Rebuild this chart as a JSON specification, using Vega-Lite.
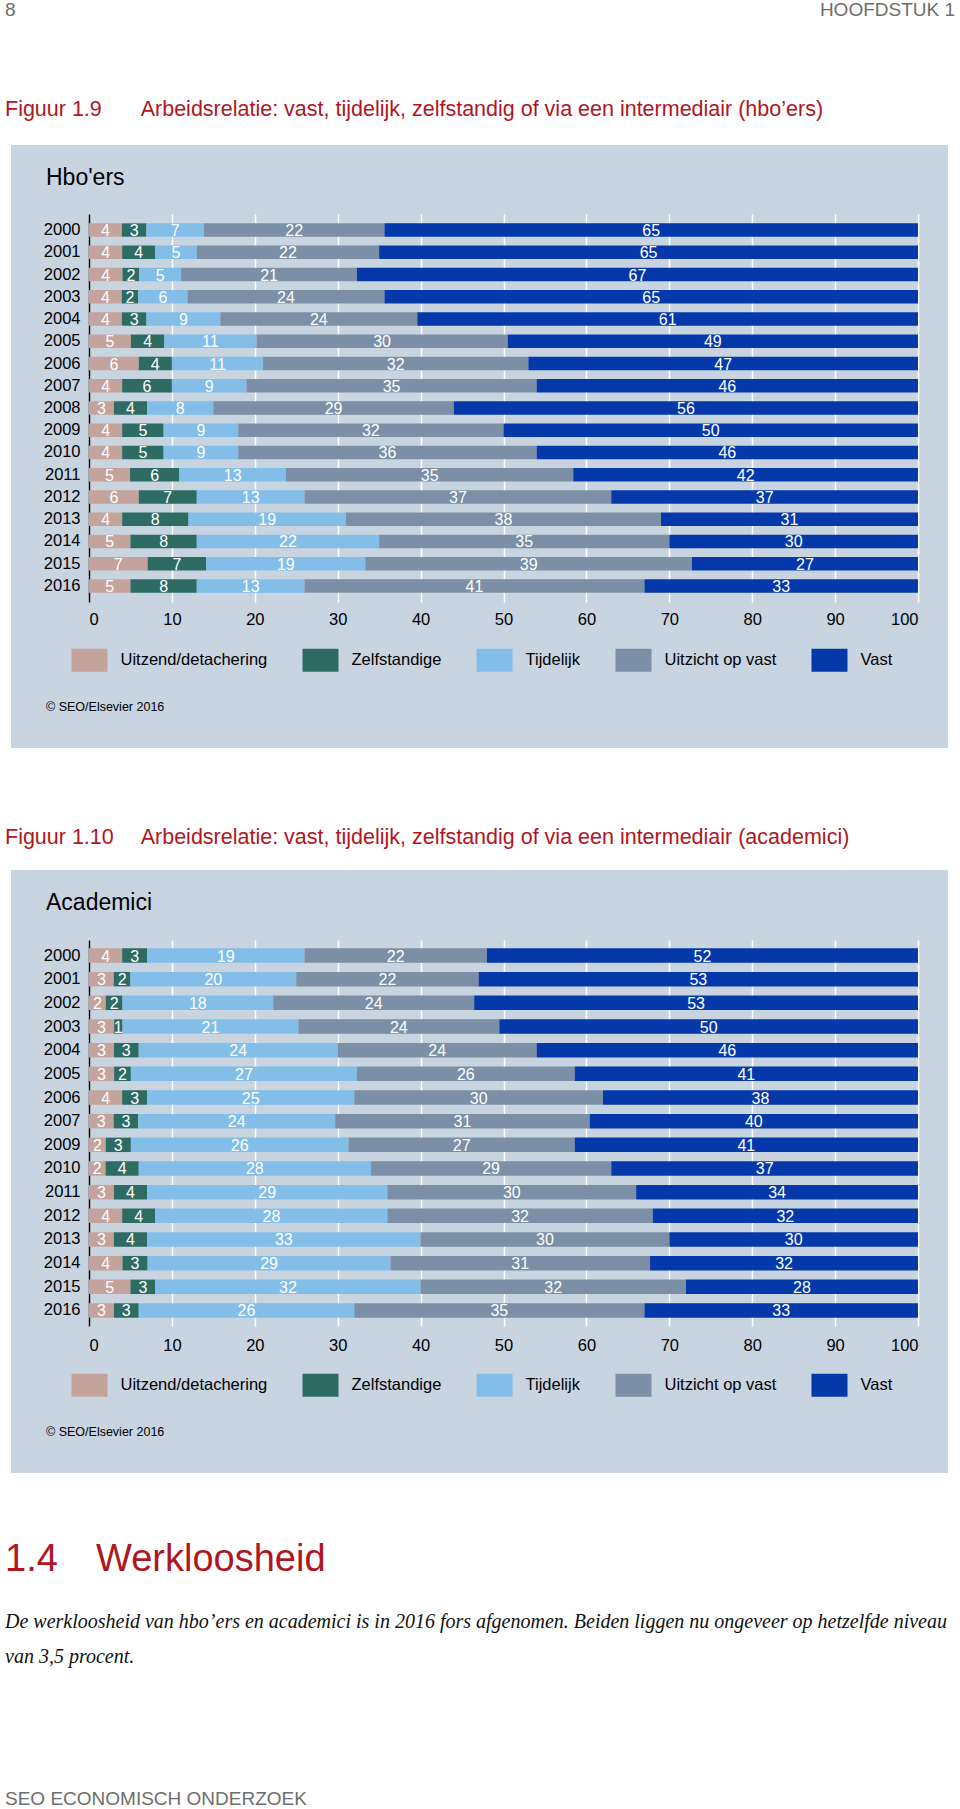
{
  "$schema": "https://vega.github.io/schema/vega-lite/v6.json",
  "background": "#c8d4e0",
  "padding": 0,
  "spacing": 0,
  "resolve": {"scale": {"color": "independent"}},
  "config": {
    "font": "Liberation Sans",
    "view": {"stroke": null},
    "axis": {"labelFont": "Liberation Sans", "labelColor": "black", "labelFontSize": 16.5},
    "legend": {"labelFont": "Liberation Sans"}
  },
  "datasets": {
    "hbo": [
      {"jaar":"2000","cat":"Uitzend/detachering","k":1,"pct":4},{"jaar":"2000","cat":"Zelfstandige","k":2,"pct":3},{"jaar":"2000","cat":"Tijdelijk","k":3,"pct":7},{"jaar":"2000","cat":"Uitzicht op vast","k":4,"pct":22},{"jaar":"2000","cat":"Vast","k":5,"pct":65},
      {"jaar":"2001","cat":"Uitzend/detachering","k":1,"pct":4},{"jaar":"2001","cat":"Zelfstandige","k":2,"pct":4},{"jaar":"2001","cat":"Tijdelijk","k":3,"pct":5},{"jaar":"2001","cat":"Uitzicht op vast","k":4,"pct":22},{"jaar":"2001","cat":"Vast","k":5,"pct":65},
      {"jaar":"2002","cat":"Uitzend/detachering","k":1,"pct":4},{"jaar":"2002","cat":"Zelfstandige","k":2,"pct":2},{"jaar":"2002","cat":"Tijdelijk","k":3,"pct":5},{"jaar":"2002","cat":"Uitzicht op vast","k":4,"pct":21},{"jaar":"2002","cat":"Vast","k":5,"pct":67},
      {"jaar":"2003","cat":"Uitzend/detachering","k":1,"pct":4},{"jaar":"2003","cat":"Zelfstandige","k":2,"pct":2},{"jaar":"2003","cat":"Tijdelijk","k":3,"pct":6},{"jaar":"2003","cat":"Uitzicht op vast","k":4,"pct":24},{"jaar":"2003","cat":"Vast","k":5,"pct":65},
      {"jaar":"2004","cat":"Uitzend/detachering","k":1,"pct":4},{"jaar":"2004","cat":"Zelfstandige","k":2,"pct":3},{"jaar":"2004","cat":"Tijdelijk","k":3,"pct":9},{"jaar":"2004","cat":"Uitzicht op vast","k":4,"pct":24},{"jaar":"2004","cat":"Vast","k":5,"pct":61},
      {"jaar":"2005","cat":"Uitzend/detachering","k":1,"pct":5},{"jaar":"2005","cat":"Zelfstandige","k":2,"pct":4},{"jaar":"2005","cat":"Tijdelijk","k":3,"pct":11},{"jaar":"2005","cat":"Uitzicht op vast","k":4,"pct":30},{"jaar":"2005","cat":"Vast","k":5,"pct":49},
      {"jaar":"2006","cat":"Uitzend/detachering","k":1,"pct":6},{"jaar":"2006","cat":"Zelfstandige","k":2,"pct":4},{"jaar":"2006","cat":"Tijdelijk","k":3,"pct":11},{"jaar":"2006","cat":"Uitzicht op vast","k":4,"pct":32},{"jaar":"2006","cat":"Vast","k":5,"pct":47},
      {"jaar":"2007","cat":"Uitzend/detachering","k":1,"pct":4},{"jaar":"2007","cat":"Zelfstandige","k":2,"pct":6},{"jaar":"2007","cat":"Tijdelijk","k":3,"pct":9},{"jaar":"2007","cat":"Uitzicht op vast","k":4,"pct":35},{"jaar":"2007","cat":"Vast","k":5,"pct":46},
      {"jaar":"2008","cat":"Uitzend/detachering","k":1,"pct":3},{"jaar":"2008","cat":"Zelfstandige","k":2,"pct":4},{"jaar":"2008","cat":"Tijdelijk","k":3,"pct":8},{"jaar":"2008","cat":"Uitzicht op vast","k":4,"pct":29},{"jaar":"2008","cat":"Vast","k":5,"pct":56},
      {"jaar":"2009","cat":"Uitzend/detachering","k":1,"pct":4},{"jaar":"2009","cat":"Zelfstandige","k":2,"pct":5},{"jaar":"2009","cat":"Tijdelijk","k":3,"pct":9},{"jaar":"2009","cat":"Uitzicht op vast","k":4,"pct":32},{"jaar":"2009","cat":"Vast","k":5,"pct":50},
      {"jaar":"2010","cat":"Uitzend/detachering","k":1,"pct":4},{"jaar":"2010","cat":"Zelfstandige","k":2,"pct":5},{"jaar":"2010","cat":"Tijdelijk","k":3,"pct":9},{"jaar":"2010","cat":"Uitzicht op vast","k":4,"pct":36},{"jaar":"2010","cat":"Vast","k":5,"pct":46},
      {"jaar":"2011","cat":"Uitzend/detachering","k":1,"pct":5},{"jaar":"2011","cat":"Zelfstandige","k":2,"pct":6},{"jaar":"2011","cat":"Tijdelijk","k":3,"pct":13},{"jaar":"2011","cat":"Uitzicht op vast","k":4,"pct":35},{"jaar":"2011","cat":"Vast","k":5,"pct":42},
      {"jaar":"2012","cat":"Uitzend/detachering","k":1,"pct":6},{"jaar":"2012","cat":"Zelfstandige","k":2,"pct":7},{"jaar":"2012","cat":"Tijdelijk","k":3,"pct":13},{"jaar":"2012","cat":"Uitzicht op vast","k":4,"pct":37},{"jaar":"2012","cat":"Vast","k":5,"pct":37},
      {"jaar":"2013","cat":"Uitzend/detachering","k":1,"pct":4},{"jaar":"2013","cat":"Zelfstandige","k":2,"pct":8},{"jaar":"2013","cat":"Tijdelijk","k":3,"pct":19},{"jaar":"2013","cat":"Uitzicht op vast","k":4,"pct":38},{"jaar":"2013","cat":"Vast","k":5,"pct":31},
      {"jaar":"2014","cat":"Uitzend/detachering","k":1,"pct":5},{"jaar":"2014","cat":"Zelfstandige","k":2,"pct":8},{"jaar":"2014","cat":"Tijdelijk","k":3,"pct":22},{"jaar":"2014","cat":"Uitzicht op vast","k":4,"pct":35},{"jaar":"2014","cat":"Vast","k":5,"pct":30},
      {"jaar":"2015","cat":"Uitzend/detachering","k":1,"pct":7},{"jaar":"2015","cat":"Zelfstandige","k":2,"pct":7},{"jaar":"2015","cat":"Tijdelijk","k":3,"pct":19},{"jaar":"2015","cat":"Uitzicht op vast","k":4,"pct":39},{"jaar":"2015","cat":"Vast","k":5,"pct":27},
      {"jaar":"2016","cat":"Uitzend/detachering","k":1,"pct":5},{"jaar":"2016","cat":"Zelfstandige","k":2,"pct":8},{"jaar":"2016","cat":"Tijdelijk","k":3,"pct":13},{"jaar":"2016","cat":"Uitzicht op vast","k":4,"pct":41},{"jaar":"2016","cat":"Vast","k":5,"pct":33}
    ],
    "acad": [
      {"jaar":"2000","cat":"Uitzend/detachering","k":1,"pct":4},{"jaar":"2000","cat":"Zelfstandige","k":2,"pct":3},{"jaar":"2000","cat":"Tijdelijk","k":3,"pct":19},{"jaar":"2000","cat":"Uitzicht op vast","k":4,"pct":22},{"jaar":"2000","cat":"Vast","k":5,"pct":52},
      {"jaar":"2001","cat":"Uitzend/detachering","k":1,"pct":3},{"jaar":"2001","cat":"Zelfstandige","k":2,"pct":2},{"jaar":"2001","cat":"Tijdelijk","k":3,"pct":20},{"jaar":"2001","cat":"Uitzicht op vast","k":4,"pct":22},{"jaar":"2001","cat":"Vast","k":5,"pct":53},
      {"jaar":"2002","cat":"Uitzend/detachering","k":1,"pct":2},{"jaar":"2002","cat":"Zelfstandige","k":2,"pct":2},{"jaar":"2002","cat":"Tijdelijk","k":3,"pct":18},{"jaar":"2002","cat":"Uitzicht op vast","k":4,"pct":24},{"jaar":"2002","cat":"Vast","k":5,"pct":53},
      {"jaar":"2003","cat":"Uitzend/detachering","k":1,"pct":3},{"jaar":"2003","cat":"Zelfstandige","k":2,"pct":1},{"jaar":"2003","cat":"Tijdelijk","k":3,"pct":21},{"jaar":"2003","cat":"Uitzicht op vast","k":4,"pct":24},{"jaar":"2003","cat":"Vast","k":5,"pct":50},
      {"jaar":"2004","cat":"Uitzend/detachering","k":1,"pct":3},{"jaar":"2004","cat":"Zelfstandige","k":2,"pct":3},{"jaar":"2004","cat":"Tijdelijk","k":3,"pct":24},{"jaar":"2004","cat":"Uitzicht op vast","k":4,"pct":24},{"jaar":"2004","cat":"Vast","k":5,"pct":46},
      {"jaar":"2005","cat":"Uitzend/detachering","k":1,"pct":3},{"jaar":"2005","cat":"Zelfstandige","k":2,"pct":2},{"jaar":"2005","cat":"Tijdelijk","k":3,"pct":27},{"jaar":"2005","cat":"Uitzicht op vast","k":4,"pct":26},{"jaar":"2005","cat":"Vast","k":5,"pct":41},
      {"jaar":"2006","cat":"Uitzend/detachering","k":1,"pct":4},{"jaar":"2006","cat":"Zelfstandige","k":2,"pct":3},{"jaar":"2006","cat":"Tijdelijk","k":3,"pct":25},{"jaar":"2006","cat":"Uitzicht op vast","k":4,"pct":30},{"jaar":"2006","cat":"Vast","k":5,"pct":38},
      {"jaar":"2007","cat":"Uitzend/detachering","k":1,"pct":3},{"jaar":"2007","cat":"Zelfstandige","k":2,"pct":3},{"jaar":"2007","cat":"Tijdelijk","k":3,"pct":24},{"jaar":"2007","cat":"Uitzicht op vast","k":4,"pct":31},{"jaar":"2007","cat":"Vast","k":5,"pct":40},
      {"jaar":"2009","cat":"Uitzend/detachering","k":1,"pct":2},{"jaar":"2009","cat":"Zelfstandige","k":2,"pct":3},{"jaar":"2009","cat":"Tijdelijk","k":3,"pct":26},{"jaar":"2009","cat":"Uitzicht op vast","k":4,"pct":27},{"jaar":"2009","cat":"Vast","k":5,"pct":41},
      {"jaar":"2010","cat":"Uitzend/detachering","k":1,"pct":2},{"jaar":"2010","cat":"Zelfstandige","k":2,"pct":4},{"jaar":"2010","cat":"Tijdelijk","k":3,"pct":28},{"jaar":"2010","cat":"Uitzicht op vast","k":4,"pct":29},{"jaar":"2010","cat":"Vast","k":5,"pct":37},
      {"jaar":"2011","cat":"Uitzend/detachering","k":1,"pct":3},{"jaar":"2011","cat":"Zelfstandige","k":2,"pct":4},{"jaar":"2011","cat":"Tijdelijk","k":3,"pct":29},{"jaar":"2011","cat":"Uitzicht op vast","k":4,"pct":30},{"jaar":"2011","cat":"Vast","k":5,"pct":34},
      {"jaar":"2012","cat":"Uitzend/detachering","k":1,"pct":4},{"jaar":"2012","cat":"Zelfstandige","k":2,"pct":4},{"jaar":"2012","cat":"Tijdelijk","k":3,"pct":28},{"jaar":"2012","cat":"Uitzicht op vast","k":4,"pct":32},{"jaar":"2012","cat":"Vast","k":5,"pct":32},
      {"jaar":"2013","cat":"Uitzend/detachering","k":1,"pct":3},{"jaar":"2013","cat":"Zelfstandige","k":2,"pct":4},{"jaar":"2013","cat":"Tijdelijk","k":3,"pct":33},{"jaar":"2013","cat":"Uitzicht op vast","k":4,"pct":30},{"jaar":"2013","cat":"Vast","k":5,"pct":30},
      {"jaar":"2014","cat":"Uitzend/detachering","k":1,"pct":4},{"jaar":"2014","cat":"Zelfstandige","k":2,"pct":3},{"jaar":"2014","cat":"Tijdelijk","k":3,"pct":29},{"jaar":"2014","cat":"Uitzicht op vast","k":4,"pct":31},{"jaar":"2014","cat":"Vast","k":5,"pct":32},
      {"jaar":"2015","cat":"Uitzend/detachering","k":1,"pct":5},{"jaar":"2015","cat":"Zelfstandige","k":2,"pct":3},{"jaar":"2015","cat":"Tijdelijk","k":3,"pct":32},{"jaar":"2015","cat":"Uitzicht op vast","k":4,"pct":32},{"jaar":"2015","cat":"Vast","k":5,"pct":28},
      {"jaar":"2016","cat":"Uitzend/detachering","k":1,"pct":3},{"jaar":"2016","cat":"Zelfstandige","k":2,"pct":3},{"jaar":"2016","cat":"Tijdelijk","k":3,"pct":26},{"jaar":"2016","cat":"Uitzicht op vast","k":4,"pct":35},{"jaar":"2016","cat":"Vast","k":5,"pct":33}
    ]
  },
  "vconcat": [
    {
      "width": 829,
      "height": 388,
      "layer": [
        {"data": {"values": [{}]}, "mark": {"type": "rect", "fill": "white"},
         "encoding": {"x": {"value": -89}, "x2": {"value": 871}, "y": {"value": -214}, "y2": {"value": -69}}},
        {"data": {"values": [{}]}, "mark": {"type": "rect", "fill": "white"},
         "encoding": {"x": {"value": -89}, "x2": {"value": -78}, "y": {"value": -69}, "y2": {"value": 534}}},
        {"data": {"values": [{}]}, "mark": {"type": "rect", "fill": "white"},
         "encoding": {"x": {"value": 859}, "x2": {"value": 871}, "y": {"value": -69}, "y2": {"value": 534}}},
        {"data": {"values": [{}]}, "mark": {"type": "rect", "fill": "white"},
         "encoding": {"x": {"value": -89}, "x2": {"value": 871}, "y": {"value": 534}, "y2": {"value": 591}}},
        {
          "data": {"name": "hbo"},
          "mark": {"type": "bar"},
          "encoding": {
            "y": {"field": "jaar", "type": "nominal", "title": null,
                  "scale": {"paddingInner": 0.4, "paddingOuter": 0.42},
                  "axis": {"domain": true, "domainColor": "black", "domainWidth": 1.5, "ticks": false, "labelPadding": 9, "grid": false}},
            "x": {"field": "pct", "type": "quantitative", "stack": "normalize", "title": null,
                  "scale": {"domain": [0, 1], "nice": false},
                  "axis": {"values": [0, 0.1, 0.2, 0.3, 0.4, 0.5, 0.6, 0.7, 0.8, 0.9, 1], "labelExpr": "format(datum.value*100, 'd')",
                           "grid": true, "gridColor": "white", "gridWidth": 1.5, "domain": false, "ticks": false, "labelPadding": 9.5}},
            "color": {"field": "cat", "type": "nominal",
                      "scale": {"domain": ["Uitzend/detachering", "Zelfstandige", "Tijdelijk", "Uitzicht op vast", "Vast"],
                                "range": ["#c4a39d", "#2e6b63", "#82bee8", "#7b8fa6", "#0539aa"]},
                      "legend": {"title": null, "orient": "none", "legendX": -17.5, "legendY": 428, "direction": "horizontal", "columns": 5,
                                 "symbolType": "M-1,-0.64L1,-0.64L1,0.64L-1,0.64Z", "symbolSize": 1296, "symbolStrokeWidth": 0,
                                 "labelFontSize": 16.5, "labelColor": "black", "labelOffset": 13, "columnPadding": 35, "padding": 0}},
            "order": {"field": "k", "type": "quantitative"}
          }
        },
        {
          "data": {"name": "hbo"},
          "mark": {"type": "text", "color": "white", "fontSize": 16, "dy": 1},
          "encoding": {
            "y": {"field": "jaar", "type": "nominal"},
            "x": {"field": "pct", "type": "quantitative", "stack": "normalize", "bandPosition": 0.5},
            "detail": {"field": "cat"},
            "order": {"field": "k", "type": "quantitative"},
            "text": {"field": "pct", "type": "quantitative"}
          }
        },
        {"data": {"values": [{}]}, "mark": {"type": "text", "align": "left", "baseline": "middle", "fontSize": 19, "color": "#6e6e6e"},
         "encoding": {"x": {"value": -84}, "y": {"value": -204}, "text": {"value": "8"}}},
        {"data": {"values": [{}]}, "mark": {"type": "text", "align": "right", "baseline": "middle", "fontSize": 19, "color": "#6e6e6e"},
         "encoding": {"x": {"value": 866}, "y": {"value": -204}, "text": {"value": "HOOFDSTUK 1"}}},
        {"data": {"values": [{}]}, "mark": {"type": "text", "align": "left", "baseline": "middle", "fontSize": 21.5, "color": "#b0161e"},
         "encoding": {"x": {"value": -84}, "y": {"value": -104}, "text": {"value": "Figuur 1.9"}}},
        {"data": {"values": [{}]}, "mark": {"type": "text", "align": "left", "baseline": "middle", "fontSize": 21.5, "color": "#b0161e"},
         "encoding": {"x": {"value": 51.7}, "y": {"value": -104}, "text": {"value": "Arbeidsrelatie: vast, tijdelijk, zelfstandig of via een intermediair (hbo’ers)"}}},
        {"data": {"values": [{}]}, "mark": {"type": "text", "align": "left", "baseline": "middle", "fontSize": 23, "color": "black"},
         "encoding": {"x": {"value": -43}, "y": {"value": -36}, "text": {"value": "Hbo'ers"}}},
        {"data": {"values": [{}]}, "mark": {"type": "text", "align": "left", "baseline": "middle", "fontSize": 12.5, "color": "black"},
         "encoding": {"x": {"value": -43}, "y": {"value": 492.7}, "text": {"value": "© SEO/Elsevier 2016"}}}
      ]
    },
    {
      "width": 829,
      "height": 386,
      "layer": [
        {"data": {"values": [{}]}, "mark": {"type": "rect", "fill": "white"},
         "encoding": {"x": {"value": -89}, "x2": {"value": 871}, "y": {"value": -135}, "y2": {"value": -70}}},
        {"data": {"values": [{}]}, "mark": {"type": "rect", "fill": "white"},
         "encoding": {"x": {"value": -89}, "x2": {"value": -78}, "y": {"value": -70}, "y2": {"value": 533}}},
        {"data": {"values": [{}]}, "mark": {"type": "rect", "fill": "white"},
         "encoding": {"x": {"value": 859}, "x2": {"value": 871}, "y": {"value": -70}, "y2": {"value": 533}}},
        {"data": {"values": [{}]}, "mark": {"type": "rect", "fill": "white"},
         "encoding": {"x": {"value": -89}, "x2": {"value": 871}, "y": {"value": 533}, "y2": {"value": 869}}},
        {
          "data": {"name": "acad"},
          "mark": {"type": "bar"},
          "encoding": {
            "y": {"field": "jaar", "type": "nominal", "title": null,
                  "scale": {"paddingInner": 0.39, "paddingOuter": 0.35},
                  "axis": {"domain": true, "domainColor": "black", "domainWidth": 1.5, "ticks": false, "labelPadding": 9, "grid": false}},
            "x": {"field": "pct", "type": "quantitative", "stack": "normalize", "title": null,
                  "scale": {"domain": [0, 1], "nice": false},
                  "axis": {"values": [0, 0.1, 0.2, 0.3, 0.4, 0.5, 0.6, 0.7, 0.8, 0.9, 1], "labelExpr": "format(datum.value*100, 'd')",
                           "grid": true, "gridColor": "white", "gridWidth": 1.5, "domain": false, "ticks": false, "labelPadding": 11}},
            "color": {"field": "cat", "type": "nominal",
                      "scale": {"domain": ["Uitzend/detachering", "Zelfstandige", "Tijdelijk", "Uitzicht op vast", "Vast"],
                                "range": ["#c4a39d", "#2e6b63", "#82bee8", "#7b8fa6", "#0539aa"]},
                      "legend": {"title": null, "orient": "none", "legendX": -17.5, "legendY": 427, "direction": "horizontal", "columns": 5,
                                 "symbolType": "M-1,-0.64L1,-0.64L1,0.64L-1,0.64Z", "symbolSize": 1296, "symbolStrokeWidth": 0,
                                 "labelFontSize": 16.5, "labelColor": "black", "labelOffset": 13, "columnPadding": 35, "padding": 0}},
            "order": {"field": "k", "type": "quantitative"}
          }
        },
        {
          "data": {"name": "acad"},
          "mark": {"type": "text", "color": "white", "fontSize": 16, "dy": 1},
          "encoding": {
            "y": {"field": "jaar", "type": "nominal"},
            "x": {"field": "pct", "type": "quantitative", "stack": "normalize", "bandPosition": 0.5},
            "detail": {"field": "cat"},
            "order": {"field": "k", "type": "quantitative"},
            "text": {"field": "pct", "type": "quantitative"}
          }
        },
        {"data": {"values": [{}]}, "mark": {"type": "text", "align": "left", "baseline": "middle", "fontSize": 21.5, "color": "#b0161e"},
         "encoding": {"x": {"value": -84}, "y": {"value": -102}, "text": {"value": "Figuur 1.10"}}},
        {"data": {"values": [{}]}, "mark": {"type": "text", "align": "left", "baseline": "middle", "fontSize": 21.5, "color": "#b0161e"},
         "encoding": {"x": {"value": 51.7}, "y": {"value": -102}, "text": {"value": "Arbeidsrelatie: vast, tijdelijk, zelfstandig of via een intermediair (academici)"}}},
        {"data": {"values": [{}]}, "mark": {"type": "text", "align": "left", "baseline": "middle", "fontSize": 23, "color": "black"},
         "encoding": {"x": {"value": -43}, "y": {"value": -37}, "text": {"value": "Academici"}}},
        {"data": {"values": [{}]}, "mark": {"type": "text", "align": "left", "baseline": "middle", "fontSize": 12.5, "color": "black"},
         "encoding": {"x": {"value": -43}, "y": {"value": 491.7}, "text": {"value": "© SEO/Elsevier 2016"}}},
        {"data": {"values": [{}]}, "mark": {"type": "text", "align": "left", "baseline": "middle", "fontSize": 38, "color": "#b0161e"},
         "encoding": {"x": {"value": -84}, "y": {"value": 620}, "text": {"value": "1.4"}}},
        {"data": {"values": [{}]}, "mark": {"type": "text", "align": "left", "baseline": "middle", "fontSize": 38, "color": "#b0161e"},
         "encoding": {"x": {"value": 7}, "y": {"value": 620}, "text": {"value": "Werkloosheid"}}},
        {"data": {"values": [{}]}, "mark": {"type": "text", "align": "left", "baseline": "middle", "font": "Liberation Serif", "fontStyle": "italic", "fontSize": 20, "color": "#111111"},
         "encoding": {"x": {"value": -84}, "y": {"value": 681.7}, "text": {"value": "De werkloosheid van hbo’ers en academici is in 2016 fors afgenomen. Beiden liggen nu ongeveer op hetzelfde niveau"}}},
        {"data": {"values": [{}]}, "mark": {"type": "text", "align": "left", "baseline": "middle", "font": "Liberation Serif", "fontStyle": "italic", "fontSize": 20, "color": "#111111"},
         "encoding": {"x": {"value": -84}, "y": {"value": 716.7}, "text": {"value": "van 3,5 procent."}}},
        {"data": {"values": [{}]}, "mark": {"type": "text", "align": "left", "baseline": "middle", "fontSize": 19, "color": "#6e6e6e"},
         "encoding": {"x": {"value": -84}, "y": {"value": 859}, "text": {"value": "SEO ECONOMISCH ONDERZOEK"}}}
      ]
    }
  ]
}
